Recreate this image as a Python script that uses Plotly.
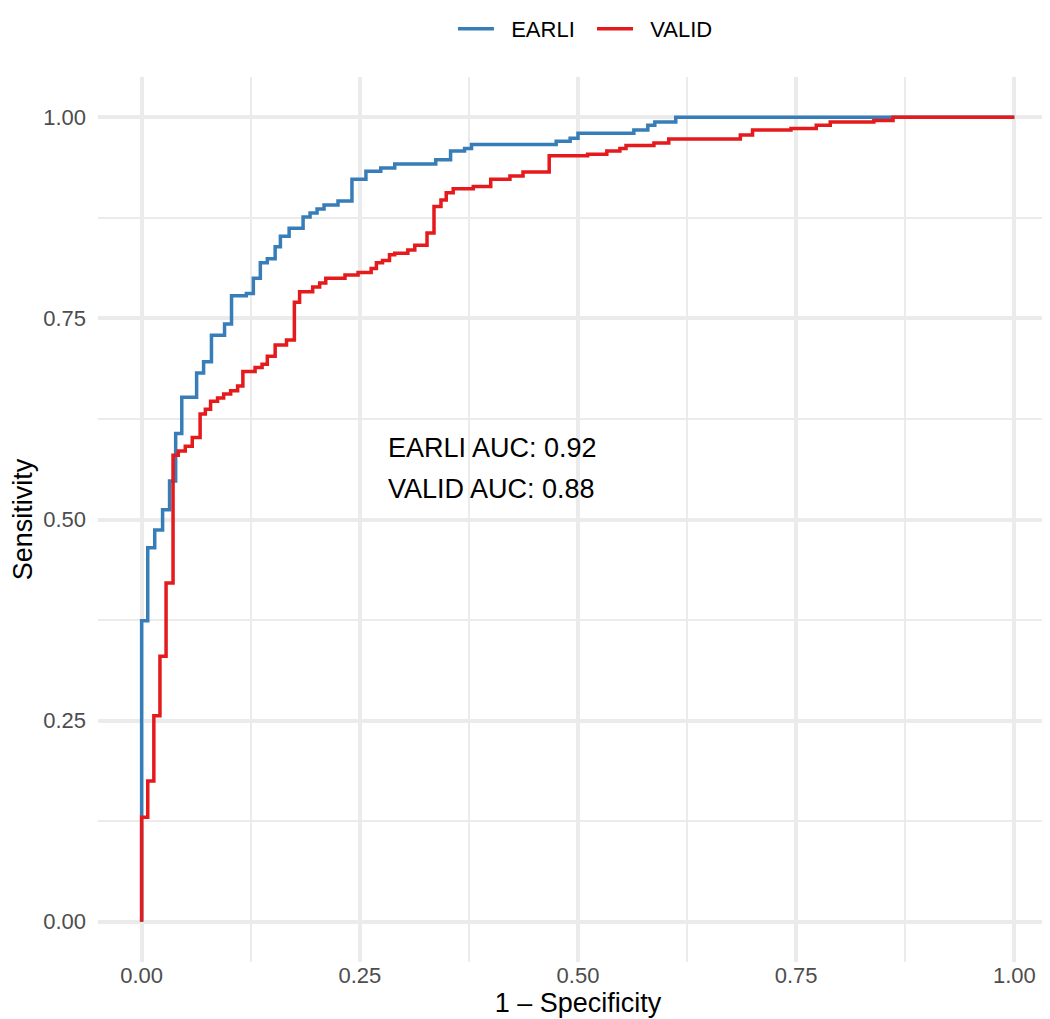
import plotly.graph_objects as go

# ROC step vertices (1 - specificity, sensitivity); each point = end of a horizontal run
earli_fpr = [0.0, 0.007, 0.015, 0.024, 0.032, 0.039, 0.046, 0.063, 0.071, 0.080, 0.095, 0.103,
             0.120, 0.128, 0.136, 0.144, 0.153, 0.159, 0.169, 0.185, 0.193, 0.201, 0.209, 0.225,
             0.241, 0.257, 0.274, 0.290, 0.337, 0.354, 0.370, 0.378, 0.475, 0.491, 0.500, 0.564,
             0.580, 0.588, 0.612, 1.0]
earli_tpr = [0.0, 0.374, 0.465, 0.487, 0.512, 0.548, 0.607, 0.652, 0.682, 0.696, 0.729, 0.743,
             0.778, 0.781, 0.800, 0.819, 0.824, 0.839, 0.852, 0.862, 0.876, 0.881, 0.886, 0.891,
             0.896, 0.923, 0.933, 0.937, 0.942, 0.947, 0.958, 0.961, 0.966, 0.970, 0.974, 0.980,
             0.984, 0.990, 0.994, 1.0]

valid_fpr = [0.0, 0.007, 0.014, 0.021, 0.028, 0.036, 0.042, 0.050, 0.058, 0.067, 0.073, 0.079,
             0.087, 0.094, 0.102, 0.110, 0.116, 0.130, 0.138, 0.144, 0.153, 0.166, 0.175, 0.181,
             0.196, 0.204, 0.211, 0.233, 0.248, 0.263, 0.269, 0.276, 0.284, 0.290, 0.305, 0.313,
             0.327, 0.335, 0.343, 0.349, 0.357, 0.380, 0.400, 0.422, 0.437, 0.467, 0.511, 0.533,
             0.548, 0.555, 0.587, 0.604, 0.686, 0.700, 0.744, 0.773, 0.789, 0.839, 0.861, 1.0]
valid_tpr = [0.0, 0.130, 0.175, 0.256, 0.330, 0.421, 0.580, 0.585, 0.591, 0.602, 0.631, 0.637,
             0.647, 0.651, 0.656, 0.660, 0.666, 0.684, 0.689, 0.693, 0.703, 0.717, 0.723, 0.770,
             0.783, 0.789, 0.794, 0.800, 0.804, 0.807, 0.812, 0.819, 0.822, 0.829, 0.831, 0.835,
             0.841, 0.856, 0.889, 0.897, 0.906, 0.911, 0.914, 0.923, 0.927, 0.932, 0.952, 0.954,
             0.958, 0.961, 0.965, 0.968, 0.973, 0.978, 0.984, 0.986, 0.990, 0.994, 0.996, 1.0]

series_names = ["EARLI", "VALID"]
series_colors = ["#377EB8", "#E41A1C"]
auc_labels = ["EARLI AUC: 0.92", "VALID AUC: 0.88"]
tick_vals = [0, 0.25, 0.5, 0.75, 1.0]
tick_text = ["0.00", "0.25", "0.50", "0.75", "1.00"]

FONT = "Liberation Sans, Arial, Helvetica, sans-serif"
GRID = "#EBEBEB"
NBSP = "\u00a0"

fig = go.Figure()
for name, col, xs, ys in zip(series_names, series_colors,
                             [earli_fpr, valid_fpr], [earli_tpr, valid_tpr]):
    fig.add_trace(go.Scatter(x=xs, y=ys, mode="lines", name=NBSP * 2 + name + NBSP * 2,
                             line=dict(color=col, width=3.5, shape="vh")))

fig.add_annotation(x=0.28, y=0.589, xref="x", yref="y", text=auc_labels[0], showarrow=False,
                   xanchor="left", yanchor="middle", font=dict(family=FONT, size=27, color="#000000"))
fig.add_annotation(x=0.28, y=0.538, xref="x", yref="y", text=auc_labels[1], showarrow=False,
                   xanchor="left", yanchor="middle", font=dict(family=FONT, size=27, color="#000000"))

axis_common = dict(
    range=[-0.05, 1.05], tickvals=tick_vals, ticktext=tick_text,
    showgrid=True, gridcolor=GRID, gridwidth=3.5, zeroline=False, showline=False,
    ticks="", tickfont=dict(family=FONT, size=22, color="#4D4D4D"),
    minor=dict(tickvals=[0.125, 0.375, 0.625, 0.875], showgrid=True, gridcolor=GRID, gridwidth=1.8),
    automargin=False,
)

fig.update_layout(
    width=1050, height=1019,
    margin=dict(l=90, r=0, t=69, b=65, autoexpand=False),
    paper_bgcolor="white", plot_bgcolor="white",
    font=dict(family=FONT),
    xaxis=dict(**axis_common, ticklabelstandoff=-2,
               title=dict(text="1 – Specificity", font=dict(family=FONT, size=27, color="#000000"),
                          standoff=0)),
    yaxis=dict(**axis_common, ticklabelstandoff=11,
               title=dict(text="Sensitivity", font=dict(family=FONT, size=27, color="#000000"),
                          standoff=14)),
    legend=dict(orientation="h", x=0.514, xanchor="center", y=1.0, yref="container",
                yanchor="top", font=dict(family=FONT, size=22, color="#000000"),
                bgcolor="rgba(0,0,0,0)", itemwidth=36),
    showlegend=True,
)

fig.write_html("out.html")
